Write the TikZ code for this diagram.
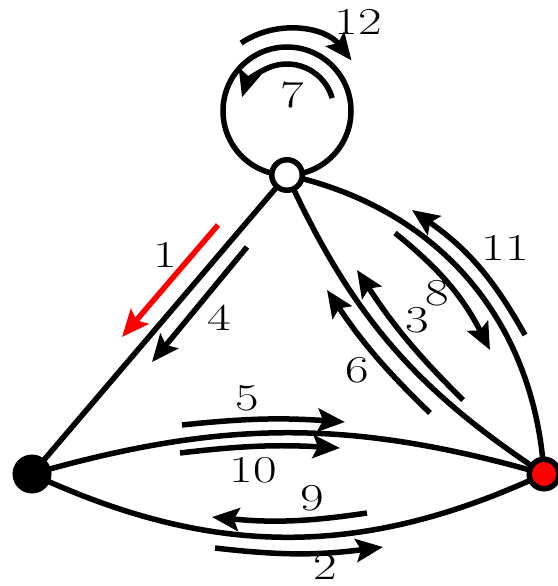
\documentclass[tikz,border=0pt]{standalone}
\usepackage{graphicx}
\usetikzlibrary{arrows.meta,backgrounds}
\newcommand\lbl[1]{\scalebox{1.35}[1]{\fontsize{38}{40}\selectfont #1}}
\begin{document}
\begin{tikzpicture}[x=1pt,y=1pt,
  edge/.style={line width=5.5pt},
  arr/.style={line width=5.5pt,-{Stealth[length=27pt,width=23pt,inset=5pt]}},
  lab/.style={inner sep=0pt}]
\useasboundingbox (0,0) rectangle (557,-586);
% vertices
\node[circle,draw,fill=white,line width=5.5pt,minimum size=30.5pt,inner sep=0pt] (T) at (287,-175) {};
\node[circle,fill=black,minimum size=39pt,inner sep=0pt] (L) at (32,-474) {};
\node[circle,draw,fill=red,line width=5.5pt,minimum size=29.5pt,inner sep=0pt] (R) at (544,-474) {};
% edges
\begin{scope}[on background layer]
\draw[edge] (T.center) -- (L.center);
\draw[edge] (T.center) to[bend left=37] (R.center);
\draw[edge] (T.center) to[bend right=16] (R.center);
\draw[edge] (L.center) to[bend left=16] (R.center);
\draw[edge] (L.center) to[bend right=25] (R.center);
\draw[edge] ([yshift=64pt]T.center) circle[radius=64pt];
\end{scope}
% loop centre
\coordinate (C) at ([yshift=64pt]T.center);
% walk arrows
\coordinate (a1s) at (218,-225); \coordinate (a1e) at (122,-337);
\coordinate (a4s) at (247,-247); \coordinate (a4e) at (152,-362);
\coordinate (a5s) at (182,-425); \coordinate (a5e) at (345,-422);
\coordinate (a10s) at (180,-453); \coordinate (a10e) at (340,-448);
\coordinate (a9s) at (367,-513); \coordinate (a9e) at (212,-517);
\coordinate (a2s) at (215,-548); \coordinate (a2e) at (383,-547);
\coordinate (a3s) at (463,-400); \coordinate (a3e) at (357,-270);
\coordinate (a6s) at (430,-413); \coordinate (a6e) at (327,-290);
\coordinate (a8s) at (395,-233); \coordinate (a8e) at (490,-350);
\coordinate (a11s) at (525,-335); \coordinate (a11e) at (412,-210);
\draw[arr,red] (a1s) -- (a1e);
\draw[arr] (a4s) -- (a4e);
\draw[arr] (a5s) to[bend left=5] (a5e);
\draw[arr] (a10s) to[bend left=5] (a10e);
\draw[arr] (a9s) to[bend left=7] (a9e);
\draw[arr] (a2s) to[bend right=7] (a2e);
\draw[arr] (a3s) to[bend left=6] (a3e);
\draw[arr] (a6s) to[bend left=6] (a6e);
\draw[arr] (a8s) to[bend left=12] (a8e);
\draw[arr] (a11s) to[bend right=13] (a11e);
\draw[arr] (C) ++(124:82) arc[start angle=124,end angle=38,radius=82];
\draw[arr] (C) ++(16:47) arc[start angle=16,end angle=163,radius=47];
% labels
\node[lab] (l1) at (165,-255) {\lbl{1}};
\node[lab] (l2) at (325,-567) {\lbl{2}};
\node[lab] (l3) at (417,-320) {\lbl{3}};
\node[lab] (l4) at (219,-318) {\lbl{4}};
\node[lab] (l5) at (247,-398) {\lbl{5}};
\node[lab] (l6) at (357,-370) {\lbl{6}};
\node[lab] (l7) at (292,-95) {\lbl{7}};
\node[lab] (l8) at (437,-293) {\lbl{8}};
\node[lab] (l9) at (312,-498) {\lbl{9}};
\node[lab] (l10) at (253,-470) {\lbl{10}};
\node[lab] (l11) at (505,-248) {\lbl{11}};
\node[lab] (l12) at (358,-22) {\lbl{12}};
\end{tikzpicture}
\end{document}
